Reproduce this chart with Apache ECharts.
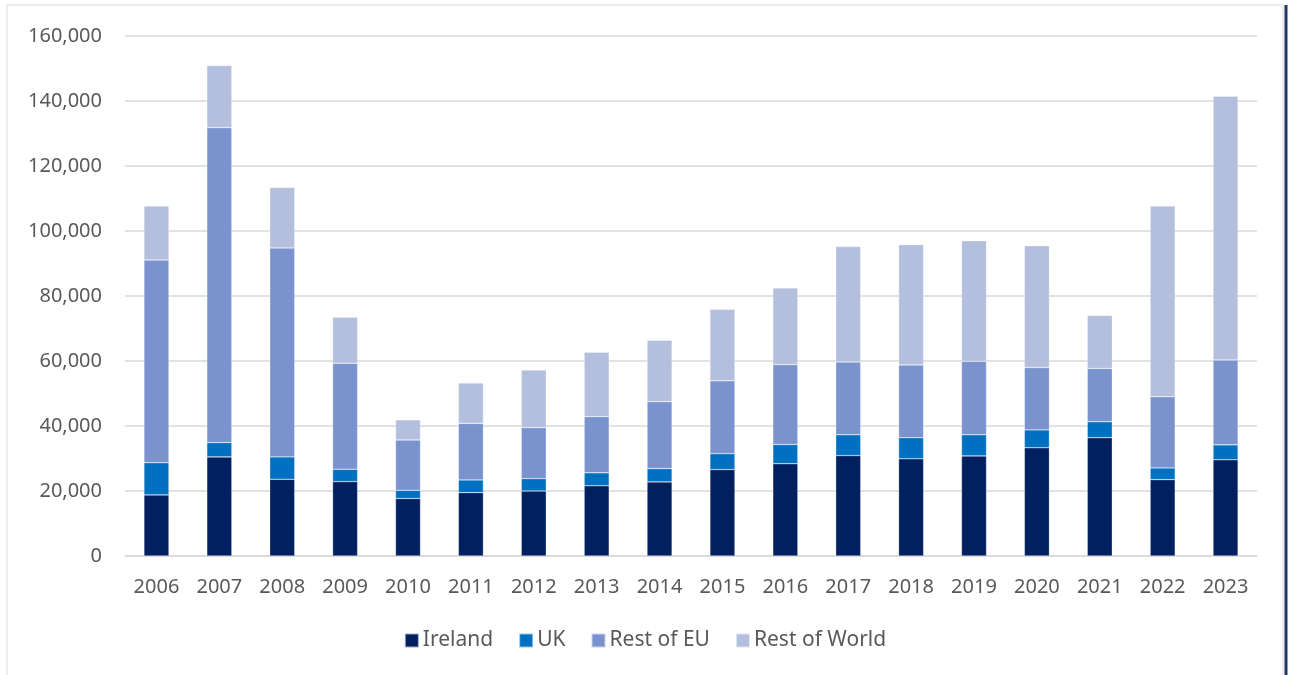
<!DOCTYPE html>
<html>
<head>
<meta charset="utf-8">
<script src="https://cdn.jsdelivr.net/npm/echarts@6/dist/echarts.min.js"></script>
<style>
html,body{margin:0;padding:0;background:#fff;}
#chart{width:1290px;height:675px;}
</style>
</head>
<body>
<div id="chart"></div>
<script>
const years = ['2006','2007','2008','2009','2010','2011','2012','2013','2014','2015','2016','2017','2018','2019','2020','2021','2022','2023'];
const ireland = [18800,30500,23600,22900,17700,19500,20000,21600,22800,26600,28400,30900,29900,30800,33300,36400,23500,29600];
const uk = [9900,4400,6900,3800,2500,3900,3800,4000,4100,4900,5900,6400,6500,6500,5500,4900,3600,4600];
const restEU = [62400,96900,64300,32600,15500,17400,15700,17300,20600,22400,24600,22400,22400,22600,19200,16400,21900,26100];
const restWorld = [16600,19100,18600,14200,6200,12400,17700,19800,18900,22000,23600,35500,37000,37100,37500,16300,58700,81200];
const seriesNames = ['Ireland','UK','Rest of EU','Rest of World'];
const colors = ['#002060','#0070C0','#7A93CE','#B4BFDE'];

const font = "'Noto Sans', 'Open Sans', sans-serif";
const chart = echarts.init(document.getElementById('chart'));
const datasets = [ireland, uk, restEU, restWorld];
chart.setOption({
  animation: false,
  color: colors,
  textStyle: {fontFamily: font},
  grid: {left: 125, right: 33, top: 36, bottom: 119},
  legend: {
    bottom: 19,
    left: 'center',
    itemWidth: 14,
    itemHeight: 14,
    itemGap: 25,
    icon: 'rect',
    textStyle: {color: '#595959', fontSize: 21, fontFamily: font, padding: [0,0,0,-1]},
    data: seriesNames
  },
  xAxis: {
    type: 'category',
    data: years,
    axisTick: {show: false},
    axisLine: {lineStyle: {color: '#D9D9D9', width: 1.5}},
    axisLabel: {color: '#595959', fontSize: 20, margin: 21, fontFamily: font}
  },
  yAxis: {
    type: 'value',
    min: 0,
    max: 160000,
    interval: 20000,
    axisLine: {show: false},
    axisTick: {show: false},
    splitLine: {lineStyle: {color: '#D9D9D9', width: 1.5}},
    axisLabel: {
      color: '#595959', fontSize: 20, margin: 23, fontFamily: font,
      formatter: v => v.toLocaleString('en-US')
    }
  },
  series: seriesNames.map((n, i) => ({
    name: n,
    type: 'bar',
    stack: 'total',
    barWidth: 25,
    data: datasets[i],
    itemStyle: {color: colors[i], borderColor: 'rgba(255,255,255,0.6)', borderWidth: 0.5}
  })),
  graphic: [
    {type: 'rect', silent: true, shape: {x: 7, y: 5, width: 1276, height: 680}, style: {fill: 'none', stroke: '#D9D9D9', lineWidth: 1}},
    {type: 'line', silent: true, shape: {x1: 1286, y1: 5, x2: 1286, y2: 675}, style: {stroke: '#1F3864', lineWidth: 3}}
  ]
});
</script>
</body>
</html>
